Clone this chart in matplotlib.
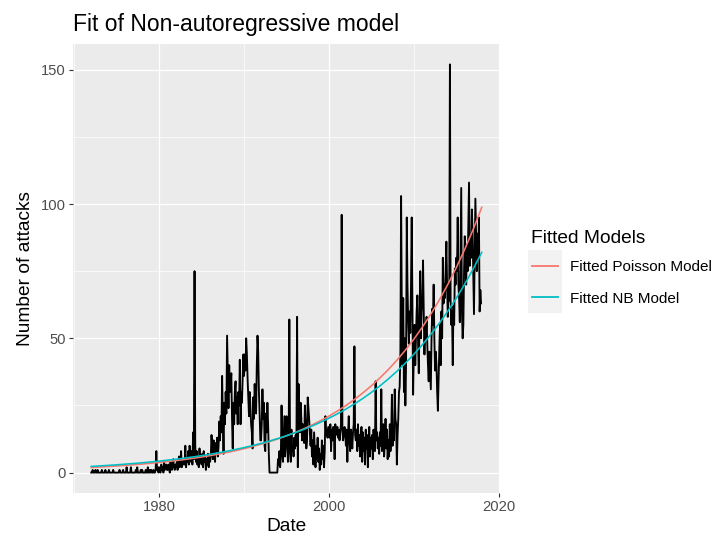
import numpy as np
import matplotlib
matplotlib.use('Agg')
import matplotlib.pyplot as plt
from matplotlib.lines import Line2D
from matplotlib.patches import Rectangle

# ---------------- data (monthly counts, Jan 1972 - Dec 2017) ----------------
start_year = 1972

attacks_1970s = [
    0, 0, 1, 0, 0, 0, 1, 0, 0, 1, 0, 0,      # 1972
    0, 0, 0, 1, 0, 0, 0, 0, 1, 0, 0, 0,      # 1973
    0, 1, 0, 0, 0, 0, 0, 1, 0, 0, 0, 0,      # 1974
    0, 0, 0, 0, 1, 0, 0, 0, 0, 1, 0, 0,      # 1975
    0, 0, 2, 0, 0, 0, 0, 0, 2, 0, 0, 0,      # 1976
    0, 0, 0, 1, 0, 2, 0, 0, 0, 0, 1, 0,      # 1977
    1, 0, 0, 0, 0, 1, 0, 0, 2, 0, 0, 1,      # 1978
    0, 1, 0, 0, 1, 0, 0, 1, 8, 1, 2, 0,      # 1979
]
attacks_1980s = [
    2, 1, 0, 3, 1, 2, 0, 4, 1, 2, 3, 1,      # 1980
    1, 3, 2, 0, 4, 2, 1, 3, 5, 2, 1, 3,      # 1981
    2, 4, 1, 3, 6, 2, 3, 8, 2, 4, 3, 5,      # 1982
    3, 10, 2, 5, 4, 8, 3, 10, 6, 4, 8, 3,    # 1983
    15, 5, 75, 10, 4, 8, 3, 6, 2, 9, 5, 4,   # 1984
    3, 7, 2, 8, 4, 6, 1, 5, 3, 7, 2, 6,      # 1985
    4, 6, 14, 9, 5, 12, 7, 4, 11, 8, 13, 6,  # 1986
    10, 19, 12, 21, 15, 36, 20, 7, 26, 18, 30, 22,   # 1987
    51, 38, 24, 40, 30, 33, 37, 20, 9, 26, 18, 30,   # 1988
    34, 22, 28, 18, 30, 25, 42, 18, 30, 26, 35, 44,  # 1989
]
attacks_1990s = [
    36, 44, 38, 50, 44, 35, 28, 21, 30, 24, 18, 15,  # 1990
    9, 28, 20, 33, 25, 22, 40, 51, 45, 30, 22, 12,   # 1991
    12, 18, 31, 20, 26, 10, 8, 22, 15, 26, 18, 7,    # 1992
    0, 0, 0, 0, 0, 0, 0, 0, 0, 0, 0, 0,              # 1993
    5, 3, 8, 2, 6, 25, 9, 4, 12, 21, 6, 10,          # 1994
    21, 14, 4, 8, 57, 12, 4, 16, 8, 10, 6, 13,       # 1995
    9, 14, 10, 58, 2, 33, 22, 15, 26, 20, 12, 18,    # 1996
    14, 11, 25, 18, 9, 12, 28, 24, 20, 15, 10, 16,   # 1997
    6, 12, 3, 15, 8, 2, 10, 5, 13, 4, 9, 1,          # 1998
    7, 3, 12, 5, 10, 2, 8, 21, 14, 16, 13, 17,       # 1999
]
attacks_2000s = [
    15, 13, 18, 8, 16, 12, 17, 15, 5, 18, 14, 16,    # 2000
    17, 13, 16, 12, 15, 18, 96, 16, 12, 14, 17, 15,  # 2001
    10, 16, 4, 14, 21, 12, 8, 16, 13, 9, 15, 18,     # 2002
    47, 14, 12, 16, 8, 18, 10, 14, 6, 13, 17, 4,     # 2003
    15, 8, 13, 3, 16, 9, 14, 2, 11, 17, 6, 13,       # 2004
    9, 14, 5, 16, 11, 8, 34, 12, 15, 9, 13, 7,       # 2005
    15, 10, 31, 8, 14, 18, 6, 12, 20, 9, 16, 5,      # 2006
    12, 6, 18, 8, 14, 29, 10, 16, 12, 31, 20, 18,    # 2007
    3, 14, 20, 30, 32, 45, 103, 60, 40, 65, 30, 50,  # 2008
    25, 40, 95, 70, 56, 48, 60, 52, 70, 95, 60, 29,  # 2009
]
attacks_2010s = [
    45, 55, 40, 50, 60, 66, 48, 37, 55, 75, 50, 60,      # 2010
    65, 79, 60, 44, 55, 50, 58, 48, 40, 34, 45, 38,      # 2011
    31, 50, 61, 55, 70, 50, 38, 45, 40, 30, 23, 35,      # 2012
    46, 55, 40, 60, 50, 80, 63, 70, 65, 75, 86, 70,      # 2013
    58, 70, 64, 152, 64, 55, 60, 40, 62, 55, 76, 70,     # 2014
    80, 75, 95, 70, 65, 56, 80, 106, 60, 50, 55, 75,     # 2015
    88, 80, 70, 85, 75, 92, 108, 77, 85, 80, 98, 90,     # 2016
    75, 59, 80, 102, 88, 75, 89, 80, 95, 60, 68, 63,     # 2017
]

fit_years = list(range(1972, 2019))
poisson_fit = [1.90, 2.07, 2.26, 2.46, 2.68, 2.92, 3.18, 3.46, 3.77, 4.11,
               4.48, 4.88, 5.32, 5.80, 6.32, 6.89, 7.50, 8.18, 8.91, 9.71,
               10.58, 11.53, 12.56, 13.69, 14.92, 16.26, 17.72, 19.31, 21.04, 22.93,
               24.98, 27.22, 29.67, 32.33, 35.23, 38.39, 41.83, 45.58, 49.67, 54.13,
               58.98, 64.27, 70.04, 76.32, 83.17, 90.63, 98.76]
nb_fit = [2.30, 2.49, 2.69, 2.90, 3.14, 3.39, 3.66, 3.96, 4.28, 4.63,
          5.00, 5.40, 5.84, 6.31, 6.82, 7.37, 7.97, 8.61, 9.31, 10.06,
          10.87, 11.75, 12.70, 13.73, 14.84, 16.04, 17.33, 18.73, 20.25, 21.88,
          23.65, 25.56, 27.63, 29.86, 32.27, 34.88, 37.70, 40.75, 44.04, 47.60,
          51.45, 55.60, 60.10, 64.95, 70.20, 75.87, 82.00]

x_breaks = [1980, 2000, 2020]
x_minor = [1970, 1990, 2010]
y_breaks = [0, 50, 100, 150]
y_minor = [25, 75, 125]
legend_labels = ['Fitted Poisson Model', 'Fitted NB Model']
legend_colors = ['#F8766D', '#00BFC4']

attacks = np.array(attacks_1970s + attacks_1980s + attacks_1990s +
                   attacks_2000s + attacks_2010s, dtype=float)
dates = start_year + np.arange(len(attacks)) / 12.0

# ---------------- figure ----------------
plt.rcParams['font.family'] = ['Liberation Sans', 'DejaVu Sans']
W, H = 717, 539
fig = plt.figure(figsize=(W / 100, H / 100), dpi=100)
fig.patch.set_facecolor('white')

def fx(px):
    return px / W

def fy(py):
    return 1 - py / H

ax = fig.add_axes([fx(73), fy(493), (500 - 73) / W, (493 - 44) / H])
ax.set_facecolor('#EBEBEB')
for s in ax.spines.values():
    s.set_visible(False)

ax.set_xlim(1969.85, 2020.15)
ax.set_ylim(-7.6, 159.6)
ax.set_xticks(x_breaks)
ax.set_xticks(x_minor, minor=True)
ax.set_yticks(y_breaks)
ax.set_yticks(y_minor, minor=True)
ax.grid(which='major', color='white', linewidth=0.9)
ax.grid(which='minor', color='white', linewidth=0.5)
ax.set_axisbelow(True)
ax.tick_params(which='major', length=2.6, width=0.8, color='#333333',
               labelsize=10.6, labelcolor='#4D4D4D', pad=2.4)
ax.tick_params(which='minor', length=0)

ax.plot(dates, attacks, color='black', linewidth=1.35, zorder=2)
ax.plot(fit_years, poisson_fit, color=legend_colors[0], linewidth=1.15, zorder=3)
ax.plot(fit_years, nb_fit, color=legend_colors[1], linewidth=1.15, zorder=3)

ax.set_xlabel('Date', fontsize=13.8, labelpad=3)
ax.set_ylabel('Number of attacks', fontsize=13.8, labelpad=5)

fig.text(fx(73), fy(31.5), 'Fit of Non-autoregressive model', fontsize=16.5,
         ha='left', va='baseline')

# ---------------- legend (ggplot style) ----------------
fig.text(fx(531), fy(243), 'Fitted Models', fontsize=13.8, ha='left', va='baseline')
key_top = 250
key_h = 31.5
for i, (lab, col) in enumerate(zip(legend_labels, legend_colors)):
    top = key_top + i * key_h
    fig.patches.append(Rectangle((fx(528), fy(top + key_h)), (562 - 528) / W, key_h / H,
                                 transform=fig.transFigure, facecolor='#F2F2F2',
                                 edgecolor='none'))
    yc = top + key_h / 2
    fig.lines.append(Line2D([fx(532), fx(558)], [fy(yc), fy(yc)],
                            transform=fig.transFigure, color=col, linewidth=1.3))
    fig.text(fx(570), fy(yc + 5.5), lab, fontsize=11, ha='left', va='baseline')

fig.savefig('out.png', dpi=100)
